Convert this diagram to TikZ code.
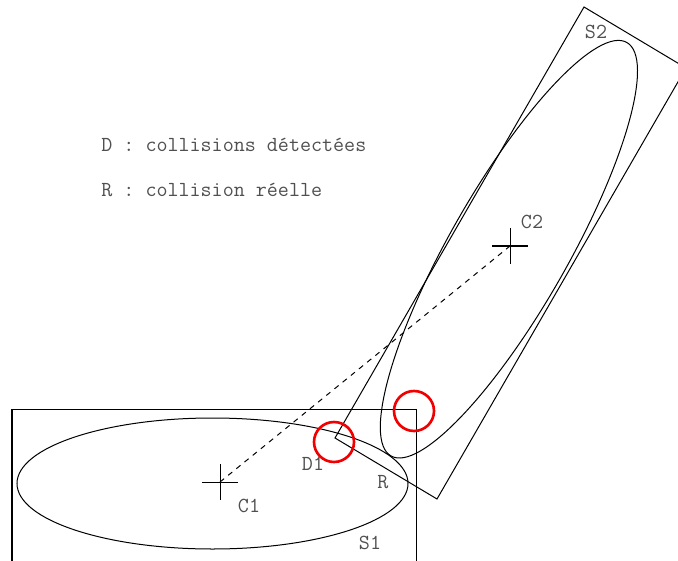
\documentclass[tikz,border=0pt]{standalone}
\usepackage{xcolor}
\definecolor{textcolor}{HTML}{505050}
\definecolor{markcolor}{HTML}{F00000}
\usetikzlibrary{positioning,calc}
\tikzset{
    label/.style={
        text=textcolor,
        font=\fontsize{12.2pt}{13pt}\selectfont\ttfamily,
        inner sep=0pt,
    },
    shapeline/.style={
        black,
        line width=0.57pt,
    },
    center/.style={
        coordinate,
    },
    link/.style={
        black,
        line width=0.57pt,
        dashed,
    },
    hit/.style={
        circle,
        draw=markcolor,
        line width=1.5pt,
        minimum size=0.8cm,
        inner sep=0pt,
    },
}
\begin{document}
\begin{tikzpicture}[x=0.02cm,y=-0.02cm]
    \useasboundingbox (0,0) rectangle (678,560);
    \clip (0,0) rectangle (678,560);

    % Legend
    \node[label, anchor=west] (legendD) at (101,145) {D : collisions détectées};
    \node[label, anchor=west] (legendR) at (101,190) {R : collision réelle};

    % Centers
    \node[center] (c1) at (220,482) {};
    \node[center] (c2) at (510,246) {};
    \draw[link] (c1) -- (c2);
    \foreach \c in {c1,c2} {
        \draw[shapeline] ($(\c)+(-18,0)$) -- ($(\c)+(18,0)$);
        \draw[shapeline] ($(\c)+(0,-18)$) -- ($(\c)+(0,18)$);
    }

    % Boxes
    \draw[shapeline] (12,409) -- (416,409) -- (416,570);
    \draw[shapeline] (12,409) -- (12,570);
    \draw[shapeline] (584,7) -- (686,68) -- (437,499) -- (335,438) -- cycle;

    % Ellipses
    \draw[shapeline] (212.5,483.5) ellipse [x radius=195.5, y radius=65.5];
    \draw[shapeline, rotate around={60.3:(508.9,249.2)}] (508.9,249.2) ellipse [x radius=238, y radius=59];

    % Real and detected collisions
    \node[hit] (d1) at (334,442) {};
    \node[hit] (d2) at (414,411) {};

    % Labels
    \node[label] (s2) at (596,32) {S2};
    \node[label] (c2label) at (532,222) {C2};
    \node[label] (c1label) at (249,506) {C1};
    \node[label] (d1label) at (313,464) {D1};
    \node[label] (rlabel) at (383,482) {R};
    \node[label] (s1) at (370,543) {S1};
\end{tikzpicture}
\end{document}
